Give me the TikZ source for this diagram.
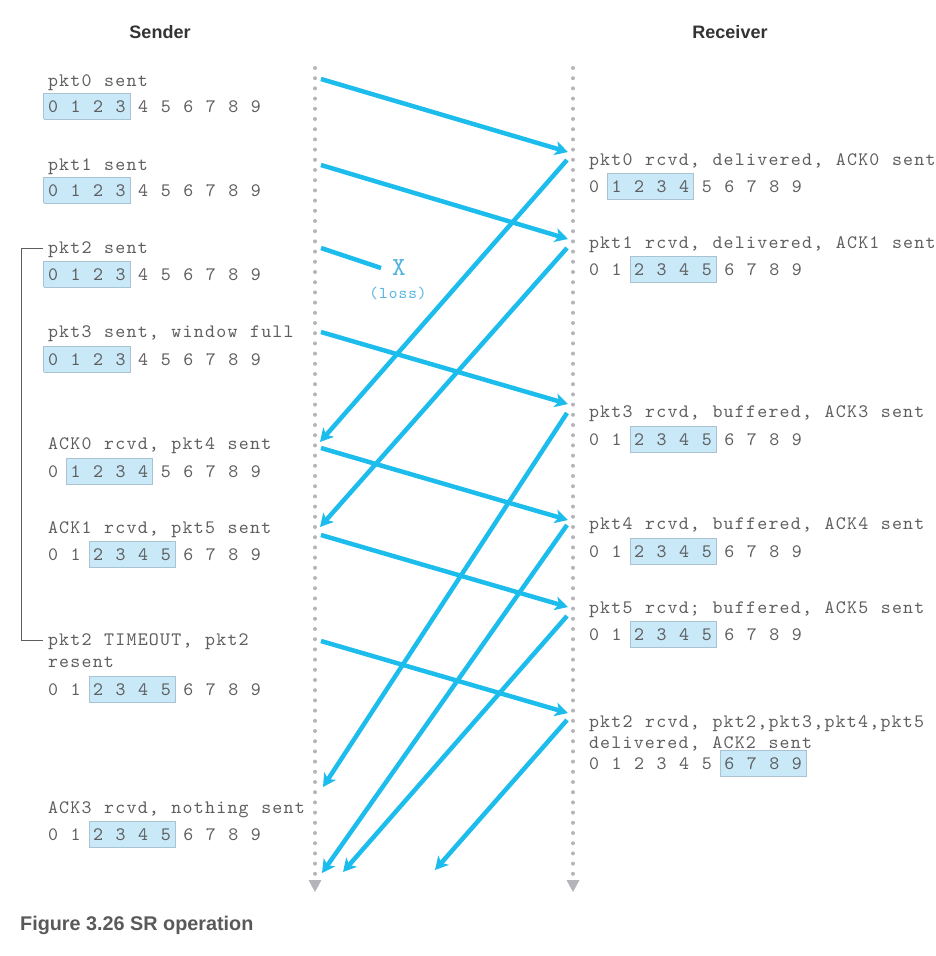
\documentclass[tikz,border=0pt]{standalone}
\usepackage{fontspec}
\setmainfont{Liberation Sans}
\newfontfamily\mono[LetterSpace=6.45,WordSpace=1.123]{lmmono10-regular.otf}
\usetikzlibrary{arrows.meta}
\frenchspacing
\definecolor{txt}{HTML}{5E5E5E}
\definecolor{titlec}{HTML}{333333}
\definecolor{capc}{HTML}{595959}
\definecolor{arrowc}{HTML}{1CBCEC}
\definecolor{lossc}{HTML}{4FB3E0}
\definecolor{dotc}{HTML}{B4B4BA}
\definecolor{winfill}{HTML}{C9E9F9}
\definecolor{winline}{HTML}{A9C3D3}
\newlength\winw
\newcommand\win[1]{%
  \settowidth\winw{#1}%
  \makebox[0pt][l]{\hspace{-4.5pt}\raisebox{-6.5pt}[0pt][0pt]{\setlength\fboxsep{0pt}\setlength\fboxrule{0.7pt}\fcolorbox{winline}{winfill}{\rule{0pt}{25pt}\hspace{\dimexpr\winw+8pt\relax}}}}%
  #1}
\begin{document}
\begin{tikzpicture}[x=1pt,y=-1pt,
  lbl/.style={anchor=base west, inner sep=0pt, outer sep=0pt, text=txt, font=\mono\fontsize{19}{22}\selectfont},
  title/.style={inner sep=0pt, text=titlec, font=\bfseries\fontsize{18}{22}\selectfont},
  msg/.style={draw=arrowc, line width=4.5pt, -{Stealth[length=13pt,width=14pt,inset=3.5pt]}},
  lost/.style={draw=arrowc, line width=4.5pt},
  life/.style={draw=dotc, line width=4pt, line cap=round, dash pattern=on 0pt off 10.2pt},
  lifetip/.style={fill=dotc},
  bracket/.style={draw=txt, line width=1pt}]
\useasboundingbox (0,0) rectangle (935,956);

% titles
\node[title] (tS) at (160,32) {Sender};
\node[title] (tR) at (730,32) {Receiver};

% lifelines
\coordinate (sTop) at (315,68); \coordinate (sBot) at (315,876);
\coordinate (rTop) at (573,68); \coordinate (rBot) at (573,876);
\draw[life] (sTop) -- (sBot);
\draw[life] (rTop) -- (rBot);
\fill[lifetip] (308.5,880) -- (321.5,880) -- (315,892) -- cycle;
\fill[lifetip] (566.5,880) -- (579.5,880) -- (573,892) -- cycle;

% sender texts
\node[lbl] (s0) at (48,86) {pkt0 sent};
\node[lbl] (s0w) at (48,112) {\win{0 1 2 3} 4 5 6 7 8 9};
\node[lbl] (s1) at (48,170) {pkt1 sent};
\node[lbl] (s1w) at (48,196) {\win{0 1 2 3} 4 5 6 7 8 9};
\node[lbl] (s2) at (48,253) {pkt2 sent};
\node[lbl] (s2w) at (48,280) {\win{0 1 2 3} 4 5 6 7 8 9};
\node[lbl] (s3) at (48,337) {pkt3 sent, window full};
\node[lbl] (s3w) at (48,365) {\win{0 1 2 3} 4 5 6 7 8 9};
\node[lbl] (s4) at (48,449) {ACK0 rcvd, pkt4 sent};
\node[lbl] (s4w) at (48,477) {0 \win{1 2 3 4} 5 6 7 8 9};
\node[lbl] (s5) at (48,533) {ACK1 rcvd, pkt5 sent};
\node[lbl] (s5w) at (48,560) {0 1 \win{2 3 4 5} 6 7 8 9};
\node[lbl] (s6) at (48,645) {pkt2 TIMEOUT, pkt2};
\node[lbl] (s6b) at (48,667) {resent};
\node[lbl] (s6w) at (48,695) {0 1 \win{2 3 4 5} 6 7 8 9};
\node[lbl] (s7) at (48,813) {ACK3 rcvd, nothing sent};
\node[lbl] (s7w) at (48,840) {0 1 \win{2 3 4 5} 6 7 8 9};

% receiver texts
\node[lbl] (r0) at (589,165) {pkt0 rcvd, delivered, ACK0 sent};
\node[lbl] (r0w) at (589,192) {0 \win{1 2 3 4} 5 6 7 8 9};
\node[lbl] (r1) at (589,248) {pkt1 rcvd, delivered, ACK1 sent};
\node[lbl] (r1w) at (589,275) {0 1 \win{2 3 4 5} 6 7 8 9};
\node[lbl] (r3) at (589,417) {pkt3 rcvd, buffered, ACK3 sent};
\node[lbl] (r3w) at (589,445) {0 1 \win{2 3 4 5} 6 7 8 9};
\node[lbl] (r4) at (589,529) {pkt4 rcvd, buffered, ACK4 sent};
\node[lbl] (r4w) at (589,557) {0 1 \win{2 3 4 5} 6 7 8 9};
\node[lbl] (r5) at (589,613) {pkt5 rcvd; buffered, ACK5 sent};
\node[lbl] (r5w) at (589,640) {0 1 \win{2 3 4 5} 6 7 8 9};
\node[lbl] (r2) at (589,727) {pkt2 rcvd, pkt2,pkt3,pkt4,pkt5};
\node[lbl] (r2b) at (589,748) {delivered, ACK2 sent};
\node[lbl] (r2w) at (589,769) {0 1 2 3 4 5 \win{6 7 8 9}};

% timeout bracket
\coordinate (bt) at (43,248);
\coordinate (bb) at (43,640);
\draw[bracket] (bt) -- (21,248) -- (21,640) -- (bb);

% data packets
\coordinate (d0s) at (321,79);  \coordinate (d0e) at (568,152);
\coordinate (d1s) at (321,165); \coordinate (d1e) at (568,239);
\coordinate (d2s) at (321,248); \coordinate (d2e) at (381,268);
\coordinate (d3s) at (321,332); \coordinate (d3e) at (568,404);
\coordinate (d4s) at (321,448); \coordinate (d4e) at (568,520);
\coordinate (d5s) at (321,535); \coordinate (d5e) at (568,607);
\coordinate (d6s) at (321,641); \coordinate (d6e) at (568,713);
\draw[msg] (d0s) -- (d0e);
\draw[msg] (d1s) -- (d1e);
\draw[lost] (d2s) -- (d2e);
\draw[msg] (d3s) -- (d3e);
\draw[msg] (d4s) -- (d4e);
\draw[msg] (d5s) -- (d5e);
\draw[msg] (d6s) -- (d6e);

% loss mark
\node[inner sep=0pt, text=lossc, font=\mono\fontsize{26}{26}\selectfont] (lx) at (399,268) {X};
\node[inner sep=0pt, text=lossc, font=\mono\fontsize{16.5}{18}\selectfont] (ll) at (398,293) {(loss)};

% ACKs
\coordinate (a0s) at (567,160); \coordinate (a0e) at (320,442);
\coordinate (a1s) at (567,248); \coordinate (a1e) at (320,527);
\coordinate (a3s) at (567,413); \coordinate (a3e) at (323,787);
\coordinate (a4s) at (567,525); \coordinate (a4e) at (322,873);
\coordinate (a5s) at (567,616); \coordinate (a5e) at (343,872);
\coordinate (a2s) at (567,720); \coordinate (a2e) at (435,870);
\draw[msg] (a0s) -- (a0e);
\draw[msg] (a1s) -- (a1e);
\draw[msg] (a3s) -- (a3e);
\draw[msg] (a4s) -- (a4e);
\draw[msg] (a5s) -- (a5e);
\draw[msg] (a2s) -- (a2e);

% caption
\node[anchor=base west, inner sep=0pt, text=capc, font=\bfseries\fontsize{19.8}{22}\selectfont] (cap) at (20,930) {Figure 3.26 SR operation};
\end{tikzpicture}
\end{document}
